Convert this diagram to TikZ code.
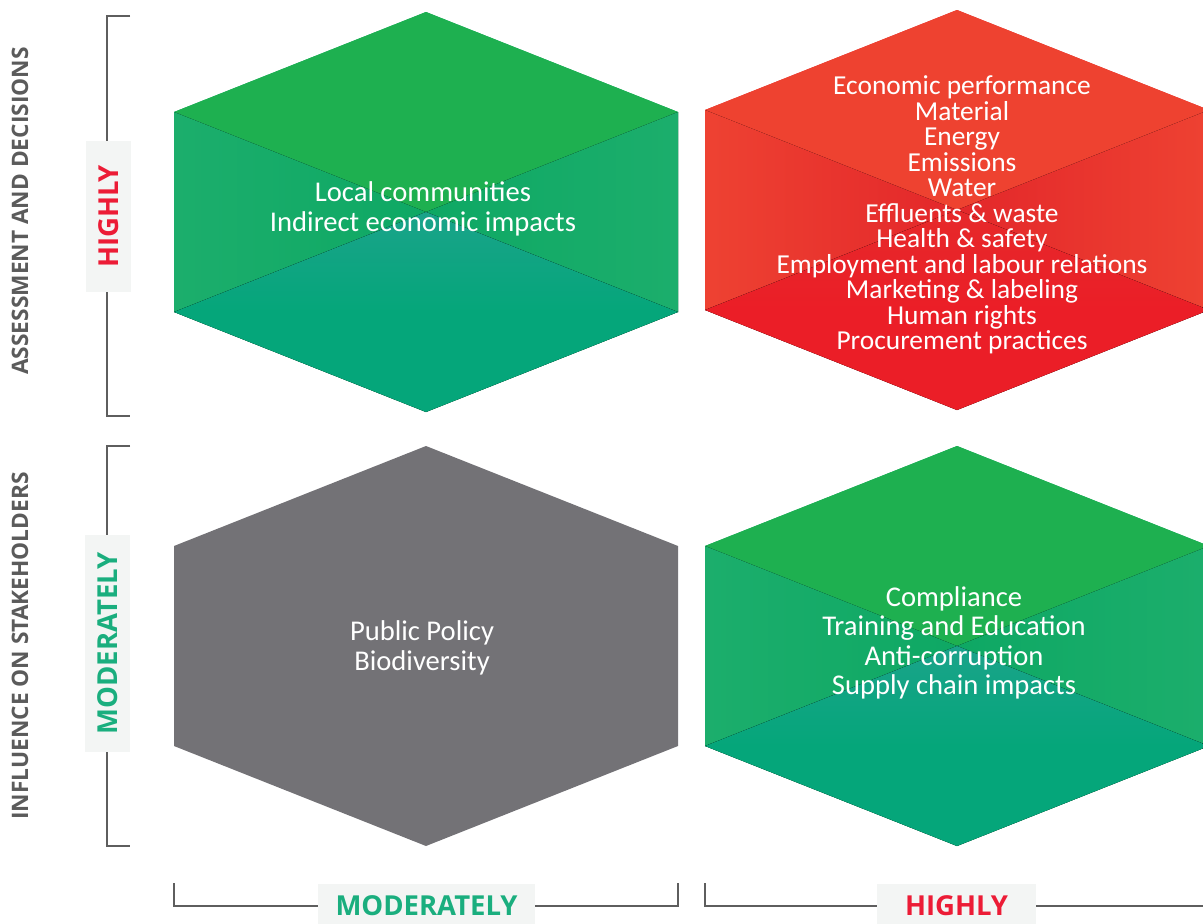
\documentclass[tikz,border=0pt]{standalone}
\usepackage{fontspec}
\setmainfont{Carlito}
\newfontfamily\labfont{Open Sans}
\definecolor{gTop}{HTML}{1EB050}
\definecolor{gEdge}{HTML}{1CAE6C}
\definecolor{gInner}{HTML}{0EA864}
\definecolor{gBotLight}{HTML}{1AA38A}
\definecolor{gBot}{HTML}{05A67A}
\definecolor{rTop}{HTML}{EE4230}
\definecolor{rEdge}{HTML}{EE4232}
\definecolor{rInner}{HTML}{E3272A}
\definecolor{rBotLight}{HTML}{E6292A}
\definecolor{rBot}{HTML}{EB1E27}
\definecolor{hexGray}{HTML}{737276}
\definecolor{axisGray}{HTML}{5B5B5B}
\definecolor{brGray}{HTML}{5E5E5E}
\definecolor{boxFill}{HTML}{F3F5F4}
\definecolor{hiRed}{HTML}{EC1C36}
\definecolor{modGreen}{HTML}{1AAE7E}
% hexagon corner points around centre (#1,#2)
\newcommand\hexpoints[2]{%
  \coordinate (T) at (#1,#2-200);
  \coordinate (UL) at (#1-252,#2-100);
  \coordinate (UR) at (#1+252,#2-100);
  \coordinate (C) at (#1,#2);
  \coordinate (LL) at (#1-252,#2+100);
  \coordinate (LR) at (#1+252,#2+100);
  \coordinate (B) at (#1,#2+200);
}
% faceted hexagon: #1 cx, #2 cy, #3 top, #4 side edge, #5 side inner, #6 bottom light, #7 bottom
\newcommand\hexcell[7]{%
  \hexpoints{#1}{#2}
  \fill[#5] (T) -- (UR) -- (LR) -- (B) -- (LL) -- (UL) -- cycle;
  \fill[#3] (T) -- (UR) -- (C) -- (UL) -- cycle;
  \fill[left color=#4, right color=#5] (UL) -- (C) -- (LL) -- cycle;
  \fill[left color=#5, right color=#4] (UR) -- (C) -- (LR) -- cycle;
  \fill[top color=#6, bottom color=#7, middle color=#7] (C) -- (LR) -- (B) -- (LL) -- cycle;
}
% flat hexagon in one colour
\newcommand\hexflat[3]{%
  \hexpoints{#1}{#2}
  \fill[#3] (T) -- (UR) -- (LR) -- (B) -- (LL) -- (UL) -- cycle;
}
\begin{document}
\begin{tikzpicture}[x=1pt,y=-1pt,
  hextext/.style={text=white, align=center, font=\fontsize{28.6}{29.3}\selectfont},
  axistitle/.style={rotate=90, text=axisGray, font=\labfont\bfseries\fontsize{22.7}{25}\selectfont},
  levelbox/.style={fill=boxFill, inner sep=0pt, font=\labfont\bfseries\fontsize{27.5}{30}\selectfont},
  bracket/.style={draw=brGray, line width=2.8pt, line cap=butt}]
\useasboundingbox (0,0) rectangle (1203,924);
\clip (0,0) rectangle (1203,924);

% hexagon cells
\hexcell{426}{212}{gTop}{gEdge}{gInner}{gBotLight}{gBot}
\hexcell{957}{210}{rTop}{rEdge}{rInner}{rBotLight}{rBot}
\hexflat{426}{646}{hexGray}
\hexcell{957}{646}{gTop}{gEdge}{gInner}{gBotLight}{gBot}

% cell texts
\node[hextext] (tl) at (423,209) {Local communities\\Indirect economic impacts};
\node[hextext, font=\fontsize{27.4}{25.5}\selectfont] (tr) at (962,215)
  {Economic performance\\Material\\Energy\\Emissions\\Water\\Effluents \& waste\\Health \& safety\\Employment and labour relations\\Marketing \& labeling\\Human rights\\Procurement practices};
\node[hextext] (bl) at (422,648) {Public Policy\\Biodiversity};
\node[hextext] (br) at (954,643) {Compliance\\Training and Education\\Anti-corruption\\Supply chain impacts};

% axis titles
\node[axistitle] (ya) at (20,211) {ASSESSMENT AND DECISIONS};
\node[axistitle] (yb) at (20,646) {INFLUENCE ON STAKEHOLDERS};

% level boxes
\node[levelbox, rotate=90, minimum width=151pt, minimum height=45pt, text=hiRed] (lvA) at (108.5,216.5) {HIGHLY};
\node[levelbox, rotate=90, minimum width=217pt, minimum height=45pt, text=modGreen] (lvB) at (107.5,643.5) {MODERATELY};
\node[levelbox, minimum width=217pt, minimum height=44pt, text=modGreen] (lvC) at (426.5,906) {MODERATELY};
\node[levelbox, minimum width=159pt, minimum height=44pt, text=hiRed] (lvD) at (956.5,906) {HIGHLY};

% bracket end points
\coordinate (a1) at (130,16);  \coordinate (a2) at (107,16);
\coordinate (a3) at (107,416); \coordinate (a4) at (130,416);
\coordinate (b1) at (130,446); \coordinate (b2) at (107,446);
\coordinate (b3) at (107,846); \coordinate (b4) at (130,846);
\coordinate (c1) at (174,883); \coordinate (c2) at (174,906);
\coordinate (c3) at (678,906); \coordinate (c4) at (678,883);
\coordinate (d1) at (705,883); \coordinate (d2) at (705,906);
\coordinate (d3) at (1210,906);

% brackets
\draw[bracket] (a1) -- (a2) -- (a2 |- lvA.east);
\draw[bracket] (a3 |- lvA.west) -- (a3) -- (a4);
\draw[bracket] (b1) -- (b2) -- (b2 |- lvB.east);
\draw[bracket] (b3 |- lvB.west) -- (b3) -- (b4);
\draw[bracket] (c1) -- (c2) -- (lvC.west |- c2);
\draw[bracket] (lvC.east |- c3) -- (c3) -- (c4);
\draw[bracket] (d1) -- (d2) -- (lvD.west |- d2);
\draw[bracket] (lvD.east |- d3) -- (d3);
\end{tikzpicture}
\end{document}
